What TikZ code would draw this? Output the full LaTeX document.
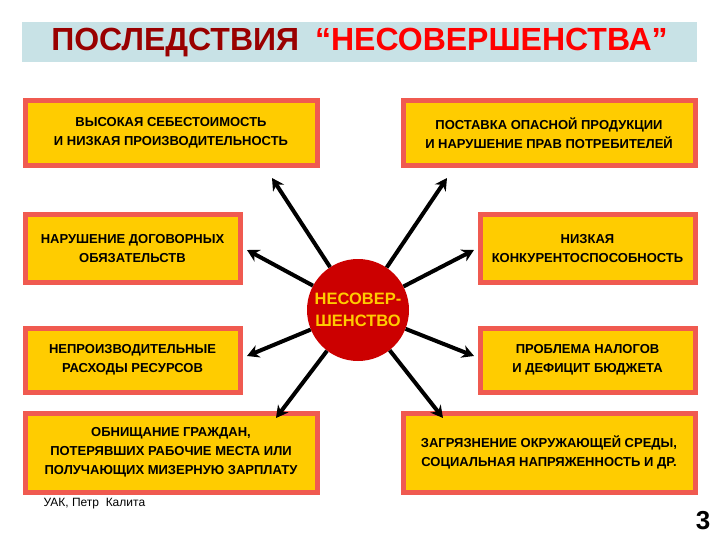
\documentclass[tikz,border=0pt]{standalone}
\usepackage{fontspec}
\setmainfont{Liberation Sans}
\usetikzlibrary{arrows.meta}
\definecolor{bx}{HTML}{FFCC00}
\definecolor{bd}{HTML}{F05A50}
\definecolor{tb}{HTML}{C8E2E6}
\definecolor{dred}{HTML}{990000}
\definecolor{cr}{HTML}{CC0000}
\begin{document}
\begin{tikzpicture}[x=1pt,y=-1pt,
  box/.style={draw=bd,line width=5pt,fill=bx,inner sep=0pt,align=center,font=\bfseries\fontsize{13}{19}\selectfont},
  arr/.style={line width=4pt,-{Stealth[length=12pt,width=13pt]}}]
\useasboundingbox (0,0) rectangle (720,540);
\fill[white] (0,0) rectangle (720,540);
\node[fill=tb,minimum width=675pt,minimum height=40pt,inner sep=0pt] (title) at (359.5,42) {};
\node[font=\bfseries\fontsize{32}{32}\selectfont] (tt) at (359.5,43) {\textcolor{dred}{ПОСЛЕДСТВИЯ}\hspace{0.5em}\textcolor{red}{“НЕСОВЕРШЕНСТВА”}};
\node[box,minimum width=292pt,minimum height=65pt] (b1) at (171,133) {ВЫСОКАЯ СЕБЕСТОИМОСТЬ\\И НИЗКАЯ ПРОИЗВОДИТЕЛЬНОСТЬ};
\node[box,minimum width=292pt,minimum height=65pt] (b2) at (549,133) {ПОСТАВКА ОПАСНОЙ ПРОДУКЦИИ\\И НАРУШЕНИЕ ПРАВ ПОТРЕБИТЕЛЕЙ};
\node[box,minimum width=215pt,minimum height=67pt] (b3) at (132.5,248.5) {НАРУШЕНИЕ ДОГОВОРНЫХ\\ОБЯЗАТЕЛЬСТВ};
\node[box,minimum width=215pt,minimum height=67pt] (b4) at (587.5,248.5) {НИЗКАЯ\\КОНКУРЕНТОСПОСОБНОСТЬ};
\node[box,minimum width=215pt,minimum height=64pt] (b5) at (132.5,360) {НЕПРОИЗВОДИТЕЛЬНЫЕ\\РАСХОДЫ РЕСУРСОВ};
\node[box,minimum width=215pt,minimum height=64pt] (b6) at (587.5,360) {ПРОБЛЕМА НАЛОГОВ\\И ДЕФИЦИТ БЮДЖЕТА};
\node[box,minimum width=292pt,minimum height=79pt] (b7) at (171,452.5) {ОБНИЩАНИЕ ГРАЖДАН,\\ПОТЕРЯВШИХ РАБОЧИЕ МЕСТА ИЛИ\\ПОЛУЧАЮЩИХ МИЗЕРНУЮ ЗАРПЛАТУ};
\node[box,minimum width=292pt,minimum height=79pt] (b8) at (549,452.5) {ЗАГРЯЗНЕНИЕ ОКРУЖАЮЩЕЙ СРЕДЫ,\\СОЦИАЛЬНАЯ НАПРЯЖЕННОСТЬ И ДР.};
\node[circle,fill=cr,minimum size=102pt,inner sep=0pt,align=center,text=bx,font=\bfseries\fontsize{16.5}{22}\selectfont] (c) at (358,310) {НЕСОВЕР-\\ШЕНСТВО};
\coordinate (t1) at (272,178);
\coordinate (t2) at (447,178);
\coordinate (t3) at (247,250);
\coordinate (t4) at (474,250);
\coordinate (t5) at (247,356);
\coordinate (t6) at (474,356);
\coordinate (t7) at (276,418);
\coordinate (t8) at (443,418);
\foreach \i in {1,...,8} \draw[arr] (c) -- (t\i);
\node[anchor=west,font=\fontsize{12}{12}\selectfont] (ft) at (40,504) {УАК, Петр\ \ Калита};
\node[font=\bfseries\fontsize{26}{26}\selectfont] (pg) at (703,521) {3};
\end{tikzpicture}
\end{document}
